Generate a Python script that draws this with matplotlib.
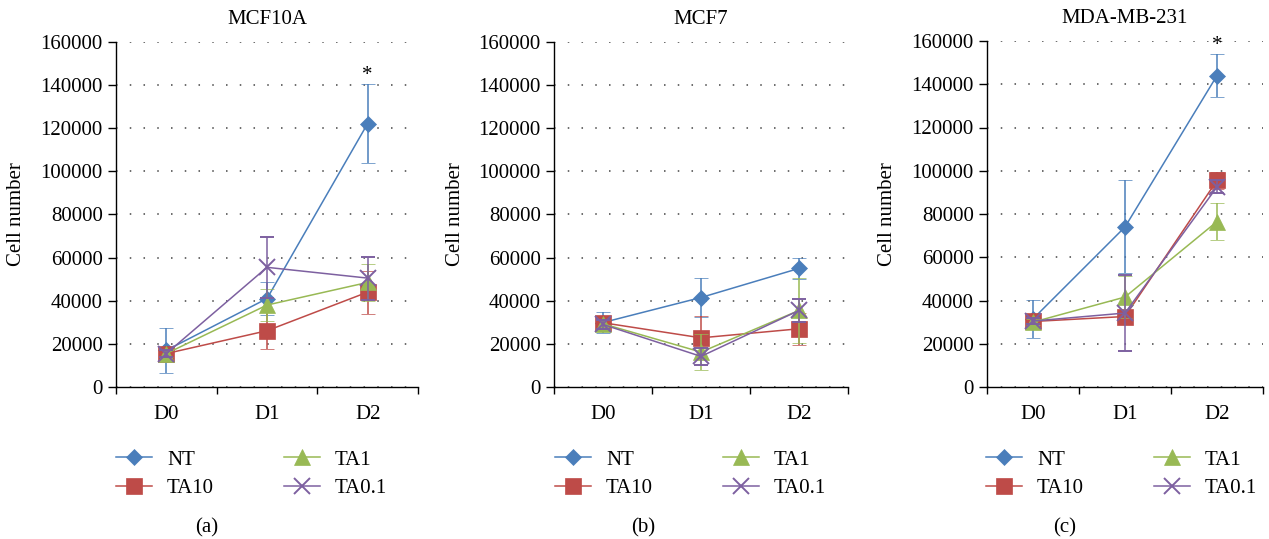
import matplotlib
matplotlib.use("Agg")
import matplotlib.pyplot as plt
import numpy as np

plt.rcParams['font.family'] = ['Liberation Serif', 'DejaVu Serif']

W, H = 1269, 539

days = ["D0", "D1", "D2"]
series_names = ["NT", "TA10", "TA1", "TA0.1"]
colors = ["#4A7EBB", "#BE4B48", "#98B954", "#7D60A0"]
markers = ["D", "s", "^", "x"]
msizes = [8.0, 11.0, 11.5, 11.0]

panel_titles = ["MCF10A", "MCF7", "MDA-MB-231"]
panel_letters = ["(a)", "(b)", "(c)"]

# MCF10A
mcf10a_nt = [17000, 41000, 122200]
mcf10a_nt_err = [10500, 7700, 18500]
mcf10a_ta10 = [15500, 26100, 44000]
mcf10a_ta10_err = [1500, 8700, 10000]
mcf10a_ta1 = [15500, 38000, 48500]
mcf10a_ta1_err = [1500, 7500, 8700]
mcf10a_ta01 = [15500, 55500, 50500]
mcf10a_ta01_err = [1500, 14000, 10000]

# MCF7
mcf7_nt = [29900, 41500, 55000]
mcf7_nt_err = [5000, 9000, 5000]
mcf7_ta10 = [29800, 22800, 27000]
mcf7_ta10_err = [2500, 10000, 7500]
mcf7_ta1 = [29300, 16200, 35500]
mcf7_ta1_err = [2000, 8500, 15000]
mcf7_ta01 = [29000, 14200, 35500]
mcf7_ta01_err = [2000, 4000, 5500]

# MDA-MB-231
mda_nt = [31500, 74000, 144000]
mda_nt_err = [8800, 21500, 10000]
mda_ta10 = [30300, 32600, 95500]
mda_ta10_err = [1500, 2000, 4000]
mda_ta1 = [30000, 41600, 76500]
mda_ta1_err = [1500, 9500, 8700]
mda_ta01 = [30500, 34200, 92500]
mda_ta01_err = [1500, 17400, 3000]

panels = [
    ([mcf10a_nt, mcf10a_ta10, mcf10a_ta1, mcf10a_ta01],
     [mcf10a_nt_err, mcf10a_ta10_err, mcf10a_ta1_err, mcf10a_ta01_err], True),
    ([mcf7_nt, mcf7_ta10, mcf7_ta1, mcf7_ta01],
     [mcf7_nt_err, mcf7_ta10_err, mcf7_ta1_err, mcf7_ta01_err], False),
    ([mda_nt, mda_ta10, mda_ta1, mda_ta01],
     [mda_nt_err, mda_ta10_err, mda_ta1_err, mda_ta01_err], True),
]

yticks = [0, 20000, 40000, 60000, 80000, 100000, 120000, 140000, 160000]

# pixel boxes: left, right, top, bottom
axes_px = [(116, 418, 42, 387), (554, 848, 42, 387), (987, 1263, 41, 387)]
ylabel_x = [17, 456, 888]
legend_x = [116, 555, 986]
letter_x = [207, 643, 1065]

fig = plt.figure(figsize=(W / 100, H / 100), dpi=100)

FS = 15

for i, (vals, errs, star) in enumerate(panels):
    l, r, t, b = axes_px[i]
    ax = fig.add_axes([l / W, 1 - b / H, (r - l) / W, (b - t) / H])
    x = np.arange(len(days))
    handles = []
    for k in range(4):
        eb = ax.errorbar(x, vals[k], yerr=errs[k], color=colors[k], marker=markers[k],
                         markersize=msizes[k], lw=1.1, elinewidth=1.1, capsize=4.8,
                         capthick=1.1, markeredgewidth=1.4 if markers[k] == 'x' else 0.5,
                         label=series_names[k], zorder=3 + k)
        handles.append(eb[0])
    ax.set_xlim(-0.5, 2.5)
    ax.set_ylim(0, 160000)
    ax.set_yticks(yticks)
    ax.set_yticklabels([str(v) for v in yticks], fontsize=FS)
    ax.set_xticks([-0.5, 0.5, 1.5, 2.5])
    ax.set_xticklabels([])
    ax.set_xticks(x, minor=True)
    ax.set_xticklabels(days, minor=True, fontsize=FS)
    ax.tick_params(axis='x', which='major', direction='out', length=5, width=1.0)
    ax.tick_params(axis='x', which='minor', length=0, pad=13)
    ax.tick_params(axis='y', direction='out', length=5.5, width=1.0, pad=4)
    for s in ['top', 'right']:
        ax.spines[s].set_visible(False)
    for s in ['left', 'bottom']:
        ax.spines[s].set_linewidth(1.0)
    ax.yaxis.grid(True, linestyle=(0, (1, 8)), color='#444444', lw=1.1)
    ax.set_axisbelow(True)
    ax.set_title(panel_titles[i], fontsize=FS, pad=13)
    if star:
        ax.annotate("*", xy=(2, vals[0][2] + errs[0][2]), xytext=(0, -1),
                    textcoords='offset points', ha='center', va='bottom', fontsize=FS)
    fig.text(ylabel_x[i] / W, 1 - 214 / H, "Cell number", rotation=90,
             ha='center', va='center', fontsize=FS)
    fig.legend(handles, series_names,
               loc='upper left', bbox_to_anchor=(legend_x[i] / W, 1 - 450 / H),
               ncol=2, frameon=False, fontsize=FS, handlelength=1.75,
               handletextpad=0.7, columnspacing=3.35, labelspacing=0.42,
               borderpad=0, borderaxespad=0)
    fig.text(letter_x[i] / W, 1 - 528 / H, panel_letters[i], ha='center', va='center',
             fontsize=FS)

fig.savefig("out.png", dpi=100)
